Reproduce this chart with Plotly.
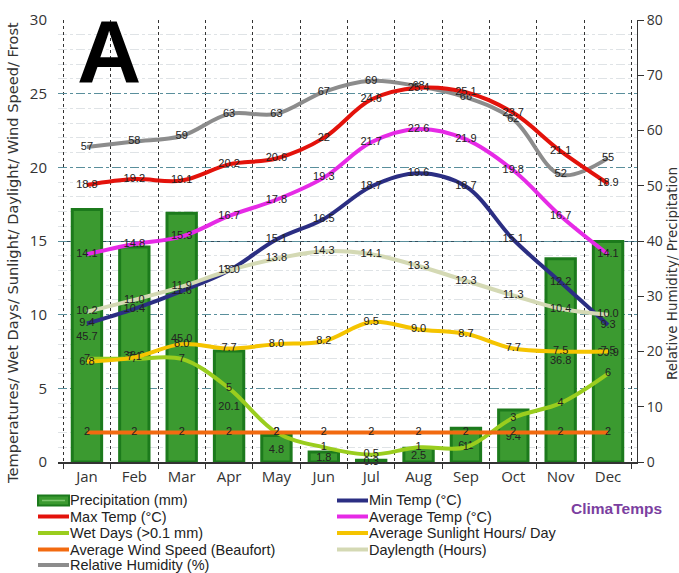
import plotly.graph_objects as go

months = ["Jan", "Feb", "Mar", "Apr", "May", "Jun", "Jul", "Aug", "Sep", "Oct", "Nov", "Dec"]
precip = [45.7, 38.9, 45.0, 20.1, 4.8, 1.8, 0.3, 2.5, 6.1, 9.4, 36.8, 39.9]
min_temp = [9.4, 10.4, 11.6, 13, 15.1, 16.5, 18.7, 19.6, 18.7, 15.1, 12.2, 9.3]
max_temp = [18.8, 19.2, 19.1, 20.2, 20.6, 22, 24.6, 25.4, 25.1, 23.7, 21.1, 18.9]
avg_temp = [14.1, 14.8, 15.3, 16.7, 17.8, 19.3, 21.7, 22.6, 21.9, 19.8, 16.7, 14.1]
wet_days = [7, 7, 7, 5, 2, 1, 0.5, 1, 1, 3, 4, 6]
sunlight = [6.8, 7.1, 8.0, 7.7, 8.0, 8.2, 9.5, 9.0, 8.7, 7.7, 7.5, 7.5]
wind = [2, 2, 2, 2, 2, 2, 2, 2, 2, 2, 2, 2]
daylength = [10.2, 11.0, 11.9, 13.0, 13.8, 14.3, 14.1, 13.3, 12.3, 11.3, 10.4, 10.0]
humidity = [57, 58, 59, 63, 63, 67, 69, 68, 66, 62, 52, 55]

W, H = 679, 573
ML, MR, MT, MB = 58, 42, 20, 111
PW, PH = W - ML - MR, H - MT - MB

def px(x):  # pixel -> paper x
    return (x - ML) / PW

def py(y):  # pixel -> paper y
    return (H - MB - y) / PH

LABEL_FONT = dict(family="Liberation Sans", size=11, color="#222222")
PRECIP_FILL, PRECIP_EDGE = "#3b9a30", "#1c7a1c"

fig = go.Figure()

fig.add_trace(go.Bar(
    x=months, y=precip, name="Precipitation (mm)", yaxis="y",
    marker=dict(color=PRECIP_FILL, line=dict(color=PRECIP_EDGE, width=3)),
    width=0.62,
    text=[f"{v:.1f}" for v in precip], textposition="inside",
    insidetextanchor="middle", textangle=0,
    textfont=LABEL_FONT, cliponaxis=False, showlegend=False,
))

legend_items = [("Precipitation (mm)", None)]

def line(name, vals, color, fmt, axis="y2"):
    fig.add_trace(go.Scatter(
        x=months, y=vals, name=name, yaxis=axis,
        mode="lines+text", line=dict(color=color, width=4, shape="spline", smoothing=1),
        text=[fmt(v) for v in vals], textposition="middle center",
        textfont=LABEL_FONT, cliponaxis=False, showlegend=False,
    ))
    legend_items.append((name, color))

g = lambda v: f"{v:g}"
f1 = lambda v: f"{v:.1f}"

line("Min Temp (°C)", min_temp, "#2b2e83", g)
line("Max Temp (°C)", max_temp, "#e3120b", g)
line("Average Temp (°C)", avg_temp, "#e62ae6", g)
line("Wet Days (>0.1 mm)", wet_days, "#9acd1e", g)
line("Average Sunlight Hours/ Day", sunlight, "#f5c400", f1)
line("Average Wind Speed (Beaufort)", wind, "#f26a10", g)
line("Daylength (Hours)", daylength, "#d4d9b4", f1)
line("Relative Humidity (%)", humidity, "#8c8c8c", g, axis="y")

# Legend (two columns) drawn as real text with swatches
annotations = []
shapes = []
row_y = [500.5, 516.5, 533, 549.5, 565]
col_x = [38, 337]
for i, (name, color) in enumerate(legend_items):
    r, c = divmod(i, 2)
    yy = py(row_y[r])
    x0, x1 = px(col_x[c]), px(col_x[c] + 31)
    if color is None:
        shapes.append(dict(type="rect", xref="paper", yref="paper",
                           x0=x0, x1=x1, y0=py(row_y[r] + 5), y1=py(row_y[r] - 5),
                           fillcolor=PRECIP_FILL, line=dict(color=PRECIP_EDGE, width=2)))
        shapes.append(dict(type="line", xref="paper", yref="paper",
                           x0=px(col_x[c] + 4), x1=px(col_x[c] + 27), y0=yy, y1=yy,
                           line=dict(color="#7cc46c", width=1.5)))
    else:
        shapes.append(dict(type="line", xref="paper", yref="paper",
                           x0=x0, x1=x1, y0=yy, y1=yy, line=dict(color=color, width=4)))
    annotations.append(dict(text=name, xref="paper", yref="paper",
                            x=px(col_x[c] + 30), y=yy, xanchor="left", yanchor="middle",
                            showarrow=False,
                            font=dict(family="Liberation Sans", size=14.5, color="#222222")))

annotations += [
    dict(text="<b>A</b>", xref="paper", yref="paper", x=0.03, y=1.045,
         xanchor="left", yanchor="top", showarrow=False,
         font=dict(family="Liberation Sans", size=89, color="black")),
    dict(text="<b>ClimaTemps</b>", xref="paper", yref="paper", x=px(664), y=py(508),
         xanchor="right", yanchor="middle", showarrow=False,
         font=dict(family="Liberation Sans", size=15.5, color="#7b3fa0")),
    dict(text="Temperatures/ Wet Days/ Sunlight/ Daylight/ Wind Speed/ Frost",
         xref="paper", yref="paper", x=px(12), y=py(253), textangle=-90,
         xanchor="center", yanchor="middle", showarrow=False,
         font=dict(family="DejaVu Sans", size=14.6, color="#333333")),
    dict(text="Relative Humidity/ Precipitation",
         xref="paper", yref="paper", x=px(672), y=py(274), textangle=-90,
         xanchor="center", yanchor="middle", showarrow=False,
         font=dict(family="DejaVu Sans", size=13.5, color="#333333")),
]

fig.update_layout(
    width=W, height=H,
    margin=dict(l=ML, r=MR, t=MT, b=MB, autoexpand=False),
    paper_bgcolor="white", plot_bgcolor="white",
    font=dict(family="Open Sans", size=13, color="#333333"),
    showlegend=False,
    xaxis=dict(
        type="category", tickson="boundaries", showgrid=True,
        griddash="dot", gridcolor="#333333", gridwidth=1,
        showline=True, linecolor="#333333", linewidth=1.5,
        ticks="outside", ticklen=5, tickcolor="#333333",
        tickfont=dict(family="Open Sans", size=15, color="#333333"),
    ),
    yaxis=dict(
        side="right", range=[0, 80], dtick=10,
        showline=True, linecolor="#333333", linewidth=1,
        ticks="outside", ticklen=6, tickcolor="#333333",
        showgrid=False, zeroline=False,
        minor=dict(tickvals=[40], showgrid=True, gridcolor="#2f4f5f", gridwidth=1, ticks=""),
        tickfont=dict(family="Open Sans", size=14, color="#333333"),
    ),
    yaxis2=dict(
        overlaying="y", side="left", range=[0, 30], dtick=5,
        showgrid=True, griddash="dashdot", gridcolor="#5a8f9c", gridwidth=1,
        minor=dict(dtick=1, showgrid=True, gridcolor="#dfe3e6", gridwidth=1),
        zeroline=False, showline=False, ticks="", ticklabelstandoff=10,
        tickfont=dict(family="Open Sans", size=15, color="#333333"),
    ),
    uniformtext=dict(minsize=11, mode="show"),
    annotations=annotations,
    shapes=shapes,
)

fig.write_html("out.html", config={"displayModeBar": False},
               post_script="document.body.style.margin='0px';")
